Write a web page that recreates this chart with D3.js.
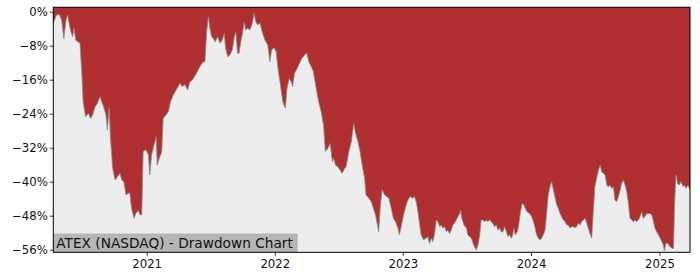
<!DOCTYPE html>
<html>
<head>
<meta charset="utf-8">
<script src="https://cdn.jsdelivr.net/npm/d3@7"></script>
<style>
  html, body { margin: 0; padding: 0; background: #ffffff; }
  svg { display: block; }
</style>
</head>
<body>
<div id="drawdownChart"></div>
<script>
// ATEX drawdown series (percent from running high)
const dates = [
  "2020-04-10","2020-04-19","2020-04-27","2020-05-04","2020-05-10","2020-05-16","2020-05-21","2020-05-25","2020-05-30","2020-06-04",
  "2020-06-08","2020-06-13","2020-06-20","2020-06-25","2020-06-30","2020-07-04","2020-07-11","2020-07-19","2020-07-25","2020-07-31",
  "2020-08-07","2020-08-13","2020-08-21","2020-08-26","2020-08-30","2020-09-07","2020-09-11","2020-09-16","2020-09-20","2020-09-26",
  "2020-10-03","2020-10-10","2020-10-17","2020-10-22","2020-10-28","2020-11-03","2020-11-10","2020-11-14","2020-11-19","2020-11-26",
  "2020-12-01","2020-12-08","2020-12-13","2020-12-18","2020-12-22","2020-12-30","2021-01-06","2021-01-10","2021-01-15","2021-01-22",
  "2021-01-28","2021-01-31","2021-02-06","2021-02-13","2021-02-17","2021-02-25","2021-03-04","2021-03-10","2021-03-18","2021-03-26",
  "2021-04-01","2021-04-06","2021-04-12","2021-04-20","2021-04-28","2021-05-04","2021-05-11","2021-05-17","2021-05-23","2021-05-30",
  "2021-06-05","2021-06-11","2021-06-16","2021-06-21","2021-06-26","2021-06-30","2021-07-05","2021-07-10","2021-07-15","2021-07-22",
  "2021-07-29","2021-08-04","2021-08-10","2021-08-14","2021-08-20","2021-08-26","2021-09-02","2021-09-08","2021-09-12","2021-09-17",
  "2021-09-21","2021-09-27","2021-10-02","2021-10-06","2021-10-10","2021-10-16","2021-10-22","2021-10-29","2021-11-03","2021-11-08",
  "2021-11-13","2021-11-20","2021-11-26","2021-12-04","2021-12-12","2021-12-18","2021-12-23","2021-12-28","2021-12-31","2022-01-05",
  "2022-01-10","2022-01-17","2022-01-24","2022-01-31","2022-02-05","2022-02-11","2022-02-17","2022-02-21","2022-02-26","2022-03-06",
  "2022-03-12","2022-03-19","2022-03-27","2022-04-02","2022-04-08","2022-04-15","2022-04-21","2022-04-29","2022-05-06","2022-05-13",
  "2022-05-20","2022-05-25","2022-06-01","2022-06-08","2022-06-14","2022-06-18","2022-06-23","2022-06-30","2022-07-06","2022-07-12",
  "2022-07-19","2022-07-23","2022-07-31","2022-08-07","2022-08-11","2022-08-14","2022-08-19","2022-08-26","2022-09-01","2022-09-07",
  "2022-09-14","2022-09-18","2022-09-26","2022-10-03","2022-10-09","2022-10-15","2022-10-22","2022-10-24","2022-10-29","2022-11-03",
  "2022-11-10","2022-11-16","2022-11-22","2022-11-29","2022-12-05","2022-12-11","2022-12-18","2022-12-22","2022-12-27","2023-01-03",
  "2023-01-09","2023-01-15","2023-01-22","2023-01-28","2023-02-03","2023-02-08","2023-02-13","2023-02-18","2023-02-22","2023-03-01",
  "2023-03-07","2023-03-13","2023-03-18","2023-03-23","2023-03-27","2023-04-01","2023-04-06","2023-04-11","2023-04-16","2023-04-20",
  "2023-04-25","2023-04-30","2023-05-05","2023-05-09","2023-05-14","2023-05-19","2023-05-23","2023-05-28","2023-06-02","2023-06-07",
  "2023-06-12","2023-06-14","2023-06-18","2023-06-24","2023-07-01","2023-07-05","2023-07-10","2023-07-15","2023-07-20","2023-07-24",
  "2023-07-29","2023-08-03","2023-08-08","2023-08-12","2023-08-17","2023-08-22","2023-08-27","2023-08-31","2023-09-05","2023-09-10",
  "2023-09-14","2023-09-19","2023-09-24","2023-09-29","2023-10-04","2023-10-08","2023-10-13","2023-10-18","2023-10-23","2023-10-27",
  "2023-11-01","2023-11-06","2023-11-10","2023-11-13","2023-11-17","2023-11-23","2023-11-27","2023-12-02","2023-12-07","2023-12-12",
  "2023-12-16","2023-12-21","2023-12-28","2024-01-03","2024-01-08","2024-01-12","2024-01-17","2024-01-22","2024-01-27","2024-01-31",
  "2024-02-05","2024-02-10","2024-02-15","2024-02-19","2024-02-24","2024-02-29","2024-03-05","2024-03-09","2024-03-14","2024-03-19",
  "2024-03-24","2024-03-28","2024-04-02","2024-04-07","2024-04-12","2024-04-16","2024-04-21","2024-04-26","2024-05-01","2024-05-05",
  "2024-05-10","2024-05-15","2024-05-20","2024-05-24","2024-05-29","2024-06-03","2024-06-08","2024-06-12","2024-06-17","2024-06-22",
  "2024-06-27","2024-07-01","2024-07-06","2024-07-11","2024-07-16","2024-07-20","2024-07-25","2024-07-30","2024-08-04","2024-08-08",
  "2024-08-13","2024-08-18","2024-08-23","2024-08-27","2024-09-01","2024-09-06","2024-09-11","2024-09-15","2024-09-20","2024-09-25",
  "2024-09-30","2024-10-04","2024-10-09","2024-10-14","2024-10-19","2024-10-23","2024-10-28","2024-11-02","2024-11-07","2024-11-11",
  "2024-11-16","2024-11-21","2024-11-26","2024-11-30","2024-12-05","2024-12-10","2024-12-15","2024-12-19","2024-12-24","2024-12-29",
  "2025-01-03","2025-01-08","2025-01-12","2025-01-15","2025-01-19","2025-01-25","2025-01-31","2025-02-07","2025-02-10","2025-02-13",
  "2025-02-17","2025-02-22","2025-02-26","2025-03-04","2025-03-09","2025-03-13","2025-03-18","2025-03-23","2025-03-29"
];

const drawdown = [
  -2.7, -0.8, -0.6, -2.0, -6.3, -2.0, -0.8, -2.7, -4.7, -5.9,
  -3.9, -6.7, -7.1, -7.4, -14.1, -21.2, -24.7, -23.9, -25.1, -24.3,
  -22.4, -21.6, -20.0, -21.2, -22.0, -24.3, -27.8, -22.7, -29.8, -36.8,
  -39.6, -38.8, -38.0, -39.6, -40.0, -43.1, -42.7, -42.7, -46.3, -48.6,
  -47.5, -46.7, -47.8, -47.8, -32.9, -32.5, -33.7, -38.4, -33.7, -31.4,
  -29.4, -36.1, -34.5, -32.9, -25.1, -24.3, -23.5, -21.2, -19.6, -18.4,
  -17.6, -16.8, -17.6, -17.2, -18.4, -16.5, -16.1, -15.3, -14.5, -13.3,
  -12.5, -11.8, -11.8, -4.7, -1.2, -3.9, -5.9, -6.3, -7.1, -5.9,
  -7.4, -6.7, -5.1, -8.6, -10.6, -10.2, -9.0, -5.9, -4.7, -9.8,
  -9.8, -6.7, -4.7, -2.4, -4.3, -3.9, -4.3, -2.7, -0.4, -2.4,
  -3.1, -2.7, -4.7, -6.7, -7.8, -11.8, -9.0, -8.6, -8.6, -9.4,
  -13.3, -17.2, -21.2, -22.7, -18.0, -15.7, -16.5, -17.6, -14.5, -13.3,
  -12.2, -11.0, -10.2, -9.7, -11.8, -12.9, -14.1, -18.0, -21.2, -23.5,
  -26.7, -32.9, -32.2, -31.0, -35.3, -34.5, -36.1, -36.5, -37.3, -38.0,
  -36.9, -36.5, -32.9, -30.6, -28.2, -26.3, -28.6, -30.6, -32.9, -36.1,
  -39.2, -43.1, -43.9, -44.7, -46.3, -47.8, -50.9, -51.8, -45.5, -41.9,
  -43.1, -43.5, -43.9, -46.3, -48.6, -49.4, -50.9, -52.5, -50.6, -47.8,
  -45.9, -44.3, -43.5, -43.9, -43.5, -44.7, -47.1, -50.2, -52.5, -53.7,
  -53.3, -53.0, -54.5, -53.3, -54.1, -52.5, -49.0, -49.4, -50.6, -50.2,
  -50.9, -50.6, -51.8, -51.4, -52.2, -51.4, -50.2, -49.8, -49.0, -48.2,
  -47.5, -46.7, -48.6, -50.2, -50.9, -52.5, -52.9, -53.3, -54.5, -55.3,
  -56.1, -54.9, -52.5, -49.0, -49.0, -49.4, -49.0, -49.4, -49.0, -49.4,
  -49.8, -50.6, -50.2, -51.4, -50.9, -51.8, -51.8, -50.6, -51.8, -52.9,
  -52.5, -53.3, -52.5, -50.9, -52.5, -51.8, -50.2, -47.1, -45.1, -45.5,
  -46.3, -47.1, -47.5, -48.2, -49.4, -50.6, -52.5, -53.3, -53.7, -53.3,
  -52.5, -51.4, -47.1, -43.1, -41.2, -40.0, -42.0, -43.5, -45.3, -46.3,
  -47.5, -48.2, -49.0, -49.4, -50.2, -50.2, -50.9, -50.6, -50.6, -50.8,
  -50.6, -49.8, -50.2, -49.4, -49.0, -48.6, -49.8, -50.9, -52.2, -53.3,
  -46.3, -41.2, -39.2, -37.3, -36.1, -37.6, -38.0, -38.4, -40.8, -41.2,
  -40.8, -41.6, -41.2, -44.3, -44.7, -43.5, -42.0, -40.4, -39.6, -40.8,
  -42.4, -44.7, -48.6, -49.0, -49.4, -49.0, -49.4, -49.0, -48.2, -47.1,
  -48.6, -48.2, -47.5, -47.5, -47.5, -47.8, -49.4, -50.9, -51.8, -52.5,
  -53.3, -54.1, -54.9, -56.3, -54.5, -54.5, -55.3, -55.7, -55.7, -45.5,
  -38.4, -40.4, -40.8, -40.0, -41.2, -40.8, -41.6, -40.8, -42.0
];

const yTicks = [0, -8, -16, -24, -32, -40, -48, -56];
const xTickYears = [2021, 2022, 2023, 2024, 2025];
const chartLabel = "ATEX (NASDAQ) - Drawdown Chart";

const width = 700;
const height = 280;
const margin = { top: 7.3, right: 10, bottom: 27.7, left: 53.3 };

const parseDate = d3.timeParse("%Y-%m-%d");

const series = dates.map((d, i) => ({ date: parseDate(d), value: drawdown[i] }));

const x = d3.scaleTime()
  .domain(d3.extent(series, d => d.date))
  .range([margin.left, width - margin.right]);

const y = d3.scaleLinear()
  .domain([-56.61, 1.035])
  .range([height - margin.bottom, margin.top]);

const svg = d3.create("svg")
  .attr("width", width)
  .attr("height", height)
  .style("font-family", "'DejaVu Sans', sans-serif")
  .style("background", "#ffffff");

// light grey plot background (the part above the price drawdown)
svg.append("rect")
  .attr("x", margin.left)
  .attr("y", margin.top)
  .attr("width", width - margin.right - margin.left)
  .attr("height", height - margin.bottom - margin.top)
  .attr("fill", "#ededed");

// red drawdown area from the top of the plot down to the curve
const area = d3.area()
  .x(d => x(d.date))
  .y0(y(y.domain()[1]))
  .y1(d => y(d.value));

svg.append("path")
  .datum(series)
  .attr("d", area)
  .attr("fill", "#b03031");

const line = d3.line()
  .x(d => x(d.date))
  .y(d => y(d.value));

svg.append("path")
  .datum(series)
  .attr("d", line)
  .attr("fill", "none")
  .attr("stroke", "#8a8a8a")
  .attr("stroke-width", 0.8)
  .attr("stroke-linejoin", "round");

// label box bottom-left
const labelGroup = svg.append("g");

const labelText = labelGroup.append("text")
  .attr("x", margin.left + 3)
  .attr("y", height - margin.bottom - 4.3)
  .attr("font-size", 13.7)
  .attr("fill", "#111111")
  .text(chartLabel);

const bb = labelText.node();

labelGroup.insert("rect", "text")
  .attr("x", margin.left)
  .attr("y", 233.5)
  .attr("width", 297.7 - margin.left)
  .attr("height", height - margin.bottom - 233.5)
  .attr("fill", "#b5b5b5");

// axes
const yAxis = d3.axisLeft(y)
  .tickValues(yTicks)
  .tickSize(3.5)
  .tickPadding(2)
  .tickFormat(d => (d < 0 ? "\u2212" + Math.abs(d) : d) + "%");

const xAxis = d3.axisBottom(x)
  .tickValues(xTickYears.map(yr => new Date(yr, 0, 1)))
  .tickSize(3.5)
  .tickPadding(3.5)
  .tickFormat(d3.timeFormat("%Y"));

const gy = svg.append("g")
  .attr("transform", `translate(${margin.left},0)`)
  .call(yAxis);

const gx = svg.append("g")
  .attr("transform", `translate(0,${height - margin.bottom})`)
  .call(xAxis);

[gx, gy].forEach(g => {
  g.select(".domain").remove();
  g.selectAll(".tick line").attr("stroke", "#000").attr("stroke-width", 0.8);
  g.selectAll(".tick text")
    .attr("fill", "#111")
    .attr("font-size", 11.7)
    .attr("font-family", "'DejaVu Sans', sans-serif");
});

// frame
svg.append("rect")
  .attr("x", margin.left)
  .attr("y", margin.top)
  .attr("width", width - margin.right - margin.left)
  .attr("height", height - margin.bottom - margin.top)
  .attr("fill", "none")
  .attr("stroke", "#000")
  .attr("stroke-width", 1);

document
  .getElementById("drawdownChart")
  .append(svg.node());
</script>
</body>
</html>
